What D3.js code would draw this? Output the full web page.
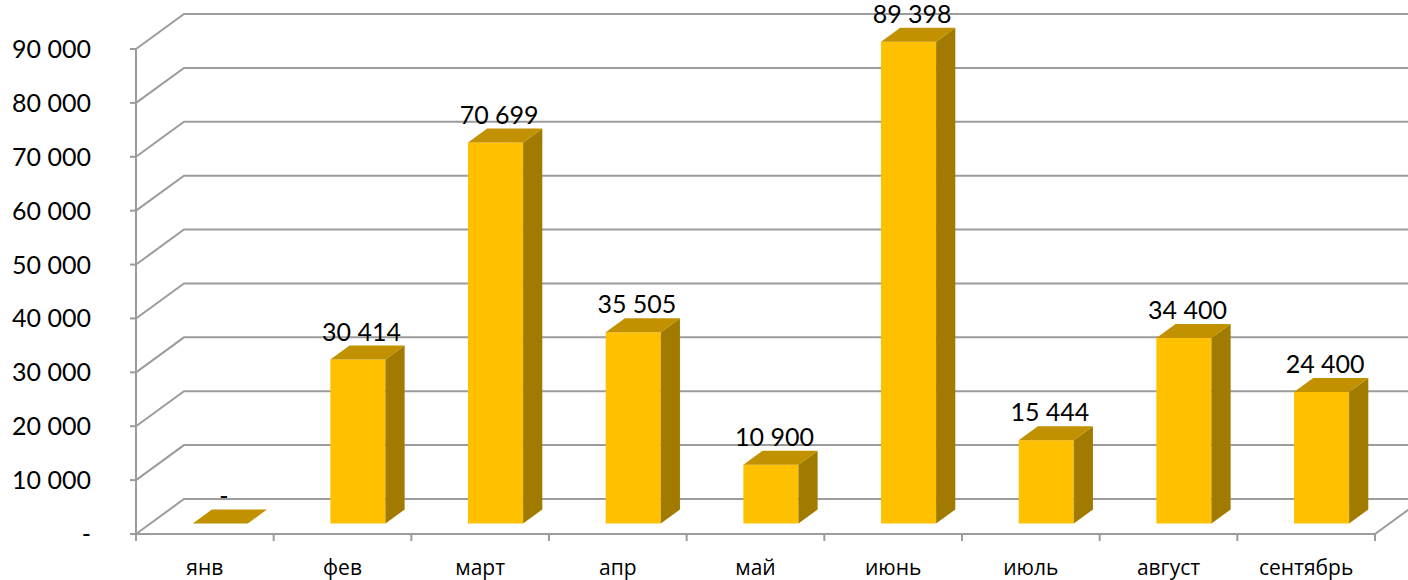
<!DOCTYPE html>
<html>
<head>
<meta charset="utf-8">
<script src="https://cdn.jsdelivr.net/npm/d3@7"></script>
<style>
    body { margin: 0; background: #fff; }
    svg { display: block; }
    .grid line, .grid path { stroke: #9c9c9c; stroke-width: 2; fill: none; }
    .ylab { font-family: Lato, 'DejaVu Sans', sans-serif; font-size: 25px; fill: #000; }
    .vlab { font-family: Lato, 'DejaVu Sans', sans-serif; font-size: 25px; fill: #000; }
    .xlab { font-family: 'Open Sans', 'Noto Sans', sans-serif; font-size: 21px; fill: #000; }
</style>
</head>
<body>
<svg id="view" width="1408" height="580"></svg>
<script>
const months = ['янв', 'фев', 'март', 'апр', 'май', 'июнь', 'июль', 'август', 'сентябрь'];
const values = [0, 30414, 70699, 35505, 10900, 89398, 15444, 34400, 24400];
const yTicks = [0, 10000, 20000, 30000, 40000, 50000, 60000, 70000, 80000, 90000];

// цвета граней
const FRONT = '#ffc000';
const SIDE = '#a17b00';
const TOP = '#c29100';

// глубина 3D (полная глубина пола)
const DX = 48;
const DY = -35;
const D0 = 0.3;
const D1 = 0.7;

function fmt(v) {
    if (v === 0) return '-';
    return d3.format(',')(v).replace(/,/g, ' ');
}

function init() {
    var svg = d3.select('svg#view');
    const width = +svg.attr('width');

    var x = d3.scaleBand()
        .domain(months)
        .range([136, 1375])
        .padding(0);
    var y = d3.scaleLinear()
        .domain([0, 90000])
        .range([534, 49]);

    const x0 = x.range()[0];
    const x1 = x.range()[1];

    var defs = svg.append('defs');
    defs.append('clipPath').attr('id', 'clip')
        .append('rect').attr('x', 0).attr('y', 0).attr('width', width).attr('height', 580);

    // сетка: задняя стенка и левая стенка
    var grid = svg.append('g').attr('class', 'grid').attr('clip-path', 'url(#clip)');
    grid.selectAll('path.gl')
        .data(yTicks)
        .enter()
        .append('path')
        .attr('class', 'gl')
        .attr('d', function(d) {
            return 'M' + x0 + ',' + y(d) +
                'L' + (x0 + DX) + ',' + (y(d) + DY) +
                'L' + (x1 + DX) + ',' + (y(d) + DY);
        });

    // пол: передняя кромка и правая сторона
    grid.append('path')
        .attr('d', 'M' + x0 + ',' + y(0) + 'L' + x1 + ',' + y(0) +
            'L' + (x1 + DX) + ',' + (y(0) + DY));

    // ось Y
    grid.append('line')
        .attr('x1', x0).attr('y1', y(0))
        .attr('x2', x0).attr('y2', y(90000));
    grid.selectAll('line.ytick')
        .data(yTicks)
        .enter()
        .append('line')
        .attr('class', 'ytick')
        .attr('x1', x0 - 6).attr('y1', function(d) { return y(d); })
        .attr('x2', x0).attr('y2', function(d) { return y(d); });

    // деления оси X
    var bounds = months.map(function(m) { return x(m); }).concat([x1]);
    grid.selectAll('line.xtick')
        .data(bounds)
        .enter()
        .append('line')
        .attr('class', 'xtick')
        .attr('x1', function(d) { return d; }).attr('y1', y(0))
        .attr('x2', function(d) { return d; }).attr('y2', y(0) + 7);

    svg.append('g')
        .selectAll('text')
        .data(yTicks)
        .enter()
        .append('text')
        .attr('class', 'ylab')
        .attr('x', 91)
        .attr('y', function(d) { return y(d); })
        .attr('dy', '0.36em')
        .attr('text-anchor', 'end')
        .text(fmt);

    svg.append('g')
        .selectAll('text')
        .data(months)
        .enter()
        .append('text')
        .attr('class', 'xlab')
        .attr('x', function(d) { return x(d) + x.bandwidth() / 2; })
        .attr('y', 575)
        .attr('text-anchor', 'middle')
        .text(function(d) { return d; });

    // столбцы
    const bw = x.bandwidth() * 0.4;
    var bars = svg.append('g')
        .selectAll('g.bar')
        .data(months.map(function(m, i) { return { m: m, v: values[i] }; }))
        .enter()
        .append('g')
        .attr('class', 'bar');

    bars.each(function(d) {
        var g = d3.select(this);
        var cx = x(d.m) + x.bandwidth() / 2;
        var fl = cx - bw / 2 + D0 * DX + 1;
        var fr = fl + bw;
        var fb = y(0) + D0 * DY;
        var ft = y(d.v) + D0 * DY;
        var ox = (D1 - D0) * DX;
        var oy = (D1 - D0) * DY;

        if (d.v > 0) {
            g.append('path')
                .attr('d', 'M' + fl + ',' + fb + 'L' + fr + ',' + fb + 'L' + fr + ',' + ft + 'L' + fl + ',' + ft + 'Z')
                .attr('fill', FRONT);
            g.append('path')
                .attr('d', 'M' + fr + ',' + fb + 'L' + (fr + ox) + ',' + (fb + oy) +
                    'L' + (fr + ox) + ',' + (ft + oy) + 'L' + fr + ',' + ft + 'Z')
                .attr('fill', SIDE);
        }
        g.append('path')
            .attr('d', 'M' + fl + ',' + ft + 'L' + fr + ',' + ft + 'L' + (fr + ox) + ',' + (ft + oy) +
                'L' + (fl + ox) + ',' + (ft + oy) + 'Z')
            .attr('fill', TOP);

        g.append('text')
            .attr('class', 'vlab')
            .attr('x', cx + 19)
            .attr('y', ft + oy - 5)
            .attr('text-anchor', 'middle')
            .text(fmt(d.v));
    });
}

document.ready = init();
</script>
</body>
</html>
